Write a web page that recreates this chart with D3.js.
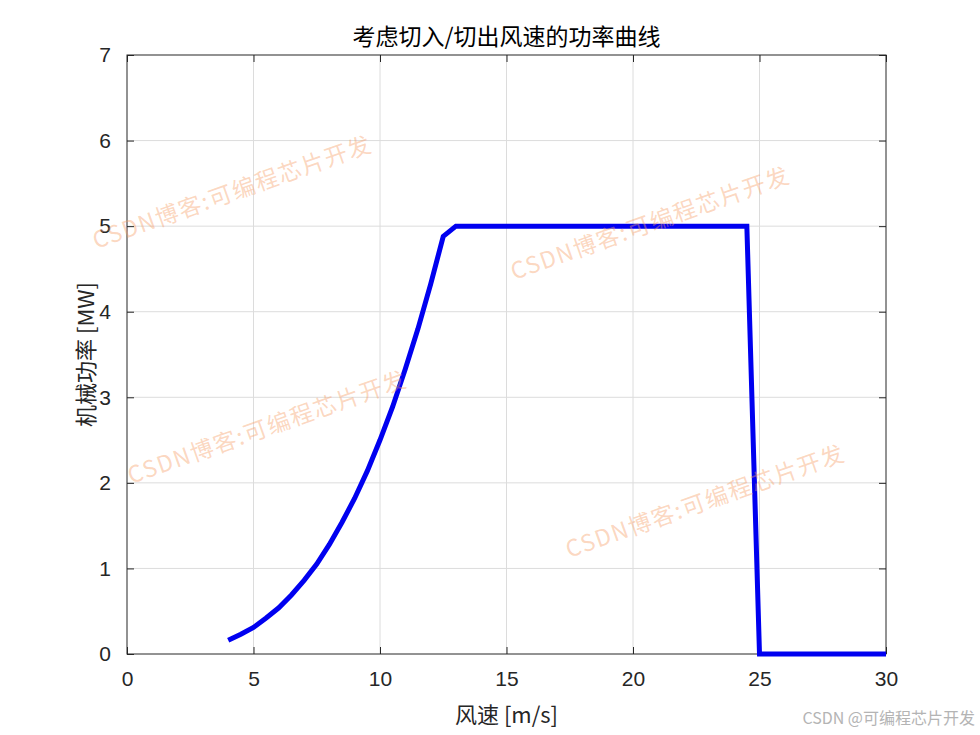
<!DOCTYPE html>
<html><head><meta charset="utf-8">
<script src="https://cdn.jsdelivr.net/npm/d3@7"></script>
<style>body{margin:0;background:#fff}</style>
</head><body>
<script>
const windSpeed = [4,4.5,5,5.5,6,6.5,7,7.5,8,8.5,9,9.5,10,10.5,11,11.5,12,12.5,13,13.5,14,14.5,15,15.5,16,16.5,17,17.5,18,18.5,19,19.5,20,20.5,21,21.5,22,22.5,23,23.5,24,24.5,25,25.5,26,26.5,27,27.5,28,28.5,29,29.5,30];
const power = [0.16,0.23,0.31,0.42,0.54,0.69,0.86,1.05,1.28,1.54,1.82,2.14,2.5,2.89,3.33,3.8,4.32,4.88,5,5,5,5,5,5,5,5,5,5,5,5,5,5,5,5,5,5,5,5,5,5,5,5,0,0,0,0,0,0,0,0,0,0,0];
const xTicks = [0,5,10,15,20,25,30];
const yTicks = [0,1,2,3,4,5,6,7];
const titleText = "考虑切入/切出风速的功率曲线";
const xLabel = "风速 [m/s]";
const yLabel = "机械功率 [MW]";
const watermark = "CSDN博客:可编程芯片开发";
const wmCenters = [[233,194],[651,225],[268,429],[706,503]];

const W=980,H=735;
const m={l:127,r:886,t:55,b:654};
const svg=d3.select("body").append("svg").attr("width",W).attr("height",H);
const x=d3.scaleLinear().domain([0,30]).range([m.l,m.r]);
const y=d3.scaleLinear().domain([0,7]).range([m.b,m.t]);
const tickFont="'Liberation Sans',Arial,sans-serif";

// grid
svg.append("g").selectAll("line").data(xTicks.slice(1,-1)).join("line")
 .attr("x1",d=>x(d)).attr("x2",d=>x(d)).attr("y1",m.t).attr("y2",m.b)
 .attr("stroke","#dcdcdc").attr("stroke-width",1);
svg.append("g").selectAll("line").data(yTicks.slice(1,-1)).join("line")
 .attr("y1",d=>y(d)).attr("y2",d=>y(d)).attr("x1",m.l).attr("x2",m.r)
 .attr("stroke","#dcdcdc").attr("stroke-width",1);

// axes
const ax=svg.append("g").attr("transform",`translate(0,${m.b})`)
 .call(d3.axisBottom(x).tickValues(xTicks).tickSize(-7).tickPadding(17).tickFormat(d3.format("d")));
const axt=svg.append("g").attr("transform",`translate(0,${m.t})`)
 .call(d3.axisTop(x).tickValues(xTicks).tickSize(-7).tickFormat(""));
const ay=svg.append("g").attr("transform",`translate(${m.l},0)`)
 .call(d3.axisLeft(y).tickValues(yTicks).tickSize(-7).tickPadding(16).tickFormat(d3.format("d")));
const ayr=svg.append("g").attr("transform",`translate(${m.r},0)`)
 .call(d3.axisRight(y).tickValues(yTicks).tickSize(-7).tickFormat(""));
[ax,axt,ay,ayr].forEach(g=>{
  g.select(".domain").remove();
  g.selectAll("line").attr("stroke","#262626");
  g.selectAll("text").attr("font-family",tickFont).attr("font-size",21).attr("fill","#262626");
});
svg.append("rect").attr("x",m.l).attr("y",m.t).attr("width",m.r-m.l).attr("height",m.b-m.t)
 .attr("fill","none").attr("stroke","#262626").attr("stroke-width",1);

// line
const data=windSpeed.map((v,i)=>[v,power[i]]);
svg.append("path").datum(data)
 .attr("d",d3.line().x(d=>x(d[0])).y(d=>y(d[1])))
 .attr("fill","none").attr("stroke","#0000f0").attr("stroke-width",5).attr("stroke-linejoin","miter");

// watermarks
const wm=svg.append("g");
wmCenters.forEach(c=>{
  wm.append("text").attr("transform",`translate(${c[0]},${c[1]}) rotate(-19.5)`)
   .attr("text-anchor","middle").attr("dominant-baseline","middle")
   .attr("font-family","'Noto Sans CJK SC',sans-serif").attr("font-size",23)
   .attr("letter-spacing",1.5)
   .attr("fill","rgba(247,160,105,0.42)").text(watermark);
});

// labels
svg.append("text").attr("x",(m.l+m.r)/2).attr("y",45).attr("text-anchor","middle")
 .attr("font-family","'Noto Sans CJK SC',sans-serif").attr("font-size",23).attr("fill","#000").text(titleText);
svg.append("text").attr("x",(m.l+m.r)/2).attr("y",723).attr("text-anchor","middle")
 .attr("font-family","'Noto Sans CJK SC','Liberation Sans',sans-serif").attr("font-size",22).attr("fill","#262626").text(xLabel);
svg.append("text").attr("transform",`translate(94,${(m.t+m.b)/2}) rotate(-90)`).attr("text-anchor","middle")
 .attr("font-family","'Noto Sans CJK SC','Liberation Sans',sans-serif").attr("font-size",22).attr("fill","#262626").text(yLabel);
svg.append("text").attr("x",975).attr("y",724).attr("text-anchor","end")
 .attr("font-family","'Noto Sans CJK SC',sans-serif").attr("font-size",16).attr("fill","#b4b4b4").text("CSDN @可编程芯片开发");
</script>
</body></html>
